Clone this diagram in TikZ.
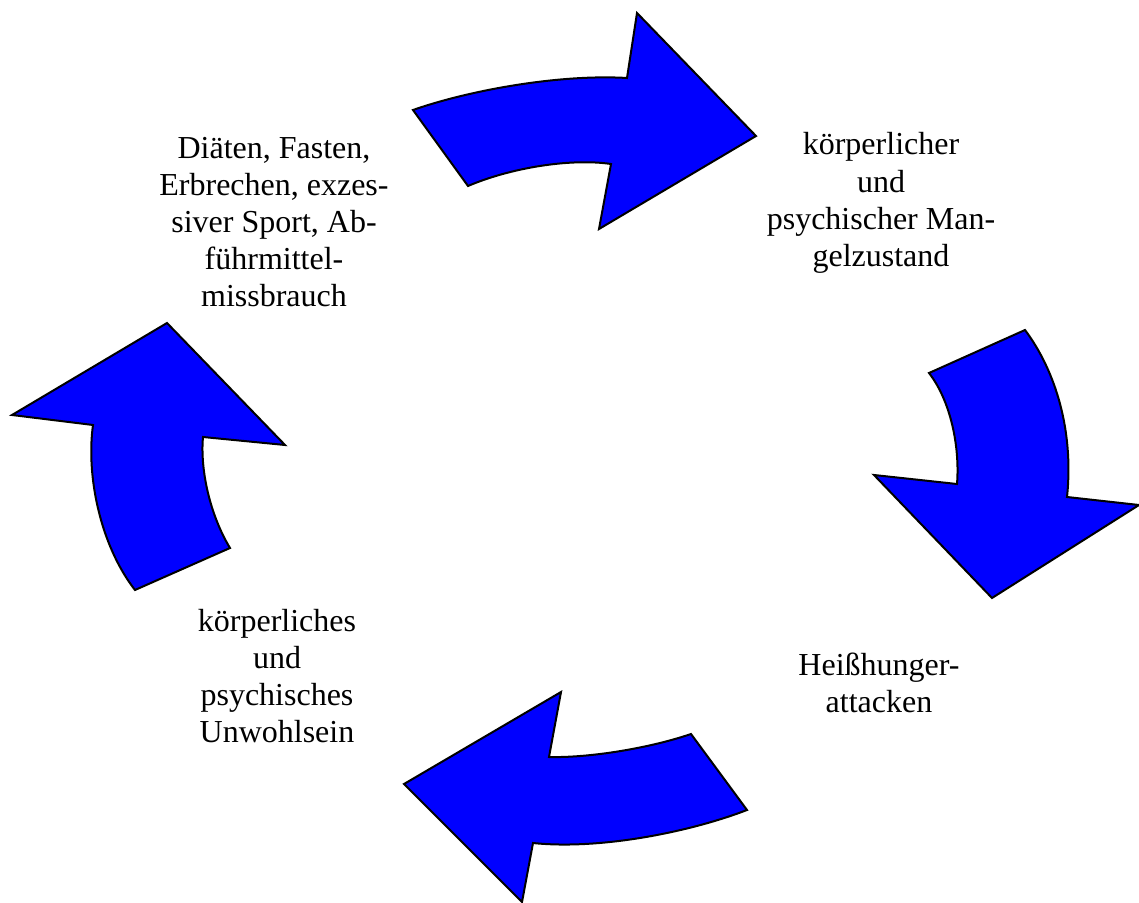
\documentclass[tikz,border=0pt]{standalone}
\usepackage{fontspec}
\setmainfont{Liberation Serif}
\tikzset{
  turn/.style={draw=black,fill=blue,line width=1pt,line join=miter},
  stage/.style={align=center,inner sep=0pt,font=\fontsize{16}{18.6}\selectfont}
}
\begin{document}
\begin{tikzpicture}[x=0.5pt,y=-0.5pt]
 \useasboundingbox (0,0) rectangle (1139,903);
 \path 	(274,222) 	node[stage] (diet) {Diäten, Fasten,\\Erbrechen, exzes-\\siver Sport, Ab-\\führmittel-\\missbrauch}
 	(881,203) 	node[stage] (lack) {körperlicher\\und\\psychischer Man-\\gelzustand}
 	(879,683) 	node[stage] (binge) {Heißhunger-\\attacken}
 	(277,676) 	node[stage] (unwell) {körperliches\\und\\psychisches\\Unwohlsein};
 % top arrow
 \draw[turn] (413,110) .. controls (470,90) and (560,74) .. (627,78) -- (637,13) -- (756,136)
 	-- (599,229) -- (611,164) .. controls (570,158) and (510,168) .. (468,186) -- cycle;
 % right arrow
 \draw[turn] (929,373) -- (1025,330) .. controls (1055,370) and (1074,430) .. (1067,497)
 	-- (1139,505) -- (992,598) -- (874,475) -- (957,484) .. controls (960,445) and (950,400) .. cycle;
 % bottom arrow
 \draw[turn] (747,810) -- (691,734) .. controls (650,748) and (590,758) .. (549,757) -- (561,692)
 	-- (404,784) -- (522,902) -- (533,843) .. controls (600,850) and (690,832) .. cycle;
 % left arrow
 \draw[turn] (135,590) -- (230,548) .. controls (210,515) and (200,470) .. (203,437) -- (285,445)
 	-- (167,323) -- (12,415) -- (93,425) .. controls (86,475) and (100,545) .. cycle;
\end{tikzpicture}
\end{document}
